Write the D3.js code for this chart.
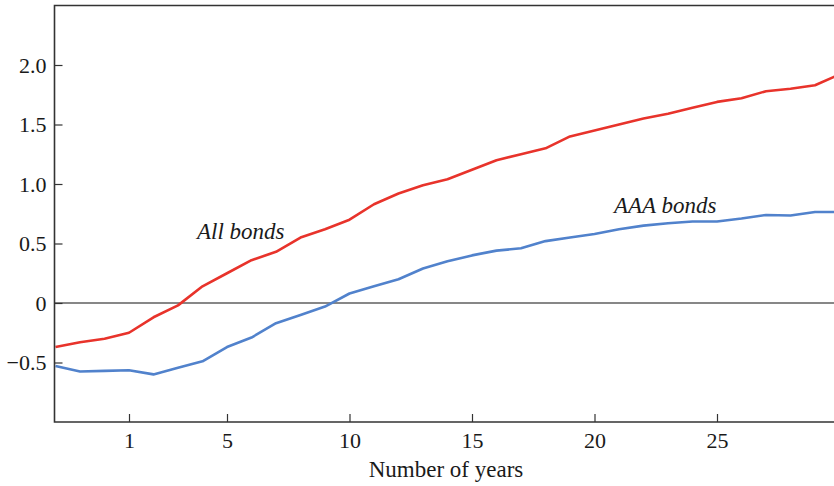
<!DOCTYPE html>
<html>
<head>
<meta charset="utf-8">
<script src="https://cdn.jsdelivr.net/npm/d3@7"></script>
<style>
  body { margin: 0; background: #fff; }
  svg text { font-family: "Liberation Serif", "DejaVu Serif", serif; fill: #1a1a1a; }
</style>
</head>
<body>
<svg id="chart"></svg>
<script>
// maturities (years): quarters, then yearly
const maturities = [0.25, 0.5, 0.75, 1, 2, 3, 4, 5, 6, 7, 8, 9, 10, 11, 12, 13, 14, 15,
  16, 17, 18, 19, 20, 21, 22, 23, 24, 25, 26, 27, 28, 29, 30];

const allBonds = [-0.37, -0.33, -0.30, -0.25, -0.12, -0.02, 0.14, 0.25, 0.36, 0.43, 0.55,
  0.62, 0.70, 0.83, 0.92, 0.99, 1.04, 1.12, 1.20, 1.25, 1.30, 1.40, 1.45, 1.50, 1.55,
  1.59, 1.64, 1.69, 1.72, 1.78, 1.80, 1.83, 1.92];

const aaaBonds = [-0.53, -0.575, -0.57, -0.565, -0.60, -0.545, -0.49, -0.37, -0.29, -0.17,
  -0.10, -0.03, 0.08, 0.14, 0.20, 0.29, 0.35, 0.40, 0.44, 0.46, 0.52, 0.55, 0.58, 0.62,
  0.65, 0.67, 0.685, 0.685, 0.71, 0.74, 0.735, 0.765, 0.765];

const xTicks = [1, 5, 10, 15, 20, 25];
const yTicks = [-0.5, 0, 0.5, 1.0, 1.5, 2.0];

const width = 834, height = 486;
const plotLeft = 54.5, plotTop = 5.5, plotBottom = 422, plotRight = 839.5;

const svg = d3.select("#chart")
  .attr("width", width)
  .attr("height", height);

const x = d3.scalePoint()
  .domain(maturities)
  .range([55.5, plotRight]);

const y = d3.scaleLinear()
  .domain([-1, 2.5])
  .range([plotBottom, plotTop]);

svg.append("defs").append("clipPath")
  .attr("id", "plot")
  .append("rect")
  .attr("x", plotLeft).attr("y", plotTop)
  .attr("width", plotRight - plotLeft).attr("height", plotBottom - plotTop);

// zero line
svg.append("line")
  .attr("x1", plotLeft).attr("x2", width)
  .attr("y1", y(0)).attr("y2", y(0))
  .attr("stroke", "#111")
  .attr("stroke-width", 1.2);

// series
const line = d3.line()
  .x((d, i) => x(maturities[i]))
  .y(d => y(d));

const series = [
  { values: allBonds, color: "#e8332b" },
  { values: aaaBonds, color: "#5182cc" }
];

svg.append("g")
  .attr("clip-path", "url(#plot)")
  .selectAll("path")
  .data(series)
  .join("path")
  .attr("fill", "none")
  .attr("stroke", d => d.color)
  .attr("stroke-width", 2.6)
  .attr("stroke-linejoin", "round")
  .attr("d", d => line(d.values));

// axes (ticks point inward)
const xAxis = svg.append("g")
  .attr("transform", `translate(0,${plotBottom})`)
  .call(d3.axisTop(x).tickValues(xTicks).tickSize(8).tickFormat(d3.format("d")));
xAxis.select(".domain").remove();
xAxis.selectAll(".tick line").attr("stroke", "#333").attr("stroke-width", 1.2);
xAxis.selectAll(".tick text")
  .attr("y", 10)
  .attr("dy", "0.71em")
  .style("font-size", "22px");

const yAxis = svg.append("g")
  .attr("transform", `translate(${plotLeft},0)`)
  .call(d3.axisRight(y).tickValues(yTicks).tickSize(8)
    .tickFormat(d => d === 0 ? "0" : d3.format(".1f")(d).replace("-", "\u2013")));
yAxis.select(".domain").remove();
yAxis.selectAll(".tick line").attr("stroke", "#333").attr("stroke-width", 1.2);
yAxis.selectAll(".tick text")
  .attr("x", -8)
  .attr("text-anchor", "end")
  .style("font-size", "22px");

// frame: top, left, bottom
svg.append("path")
  .attr("d", `M${width},${plotTop}H${plotLeft}V${plotBottom}H${width}`)
  .attr("fill", "none")
  .attr("stroke", "#333")
  .attr("stroke-width", 1.6);

// labels
svg.append("text")
  .attr("x", 197).attr("y", 239)
  .style("font-style", "italic")
  .style("font-size", "23px")
  .text("All bonds");

svg.append("text")
  .attr("x", 614).attr("y", 213)
  .style("font-style", "italic")
  .style("font-size", "23px")
  .text("AAA bonds");

svg.append("text")
  .attr("x", 446).attr("y", 477)
  .attr("text-anchor", "middle")
  .style("font-size", "23px")
  .text("Number of years");
</script>
</body>
</html>
